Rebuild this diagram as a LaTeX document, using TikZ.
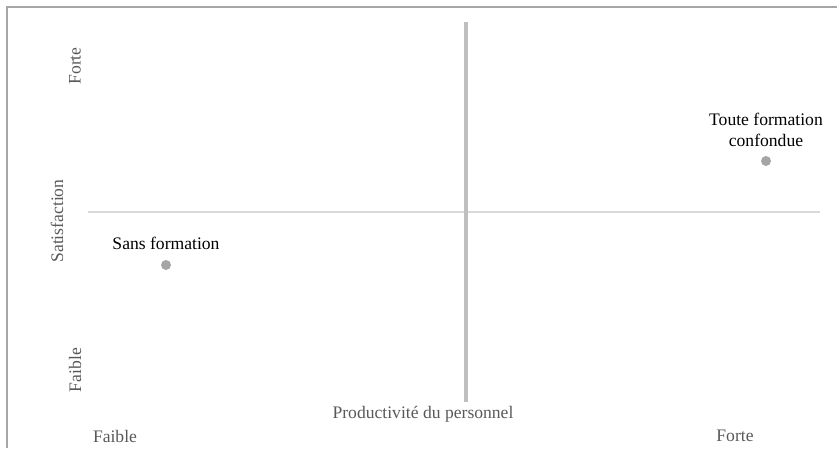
\documentclass[tikz,border=0pt]{standalone}
\usepackage{fontspec}
\setmainfont{Liberation Serif}
\definecolor{framegray}{HTML}{A6A6A6}
\definecolor{haxis}{HTML}{D9D9D9}
\definecolor{vaxis}{HTML}{BFBFBF}
\definecolor{dotgray}{HTML}{A5A5A5}
\definecolor{labgray}{HTML}{595959}
\tikzset{
  axlabel/.style={text=labgray, font=\fontsize{17.6}{21}\selectfont, inner sep=0pt},
  datalabel/.style={text=black, font=\fontsize{17.6}{21}\selectfont, inner sep=0pt, align=center},
  datadot/.style={circle, fill=dotgray, minimum size=10pt, inner sep=0pt},
}
\begin{document}
\begin{tikzpicture}[x=1pt, y=-1pt]
\useasboundingbox (0,0) rectangle (837,448);
% frame
\coordinate (fbl) at (7,448);
\coordinate (ftl) at (7,7);
\coordinate (ftr) at (837,7);
\draw[framegray, line width=1.5pt] (fbl) -- (ftl) -- (ftr);
% axes
\coordinate (hl) at (88,212);
\coordinate (hr) at (820,212);
\coordinate (vt) at (466,22);
\coordinate (vb) at (466,402);
\draw[haxis, line width=2pt] (hl) -- (hr);
\draw[vaxis, line width=4pt] (vt) -- (vb);
% points
\node[datadot] (p1) at (166,265) {};
\node[datadot] (p2) at (766,161) {};
\node[datalabel] (l1) at (166,243) {Sans formation};
\node[datalabel] (l2) at (766,130) {Toute formation\\confondue};
% axis labels
\node[axlabel, rotate=90] (yf) at (75,66) {Forte};
\node[axlabel, rotate=90] (yw) at (75,370) {Faible};
\node[axlabel, rotate=90] (ys) at (57,221) {Satisfaction};
\node[axlabel] (xt) at (423,414) {Productivité du personnel};
\node[axlabel] (xw) at (115,436) {Faible};
\node[axlabel] (xf) at (735,436) {Forte};
\end{tikzpicture}
\end{document}
